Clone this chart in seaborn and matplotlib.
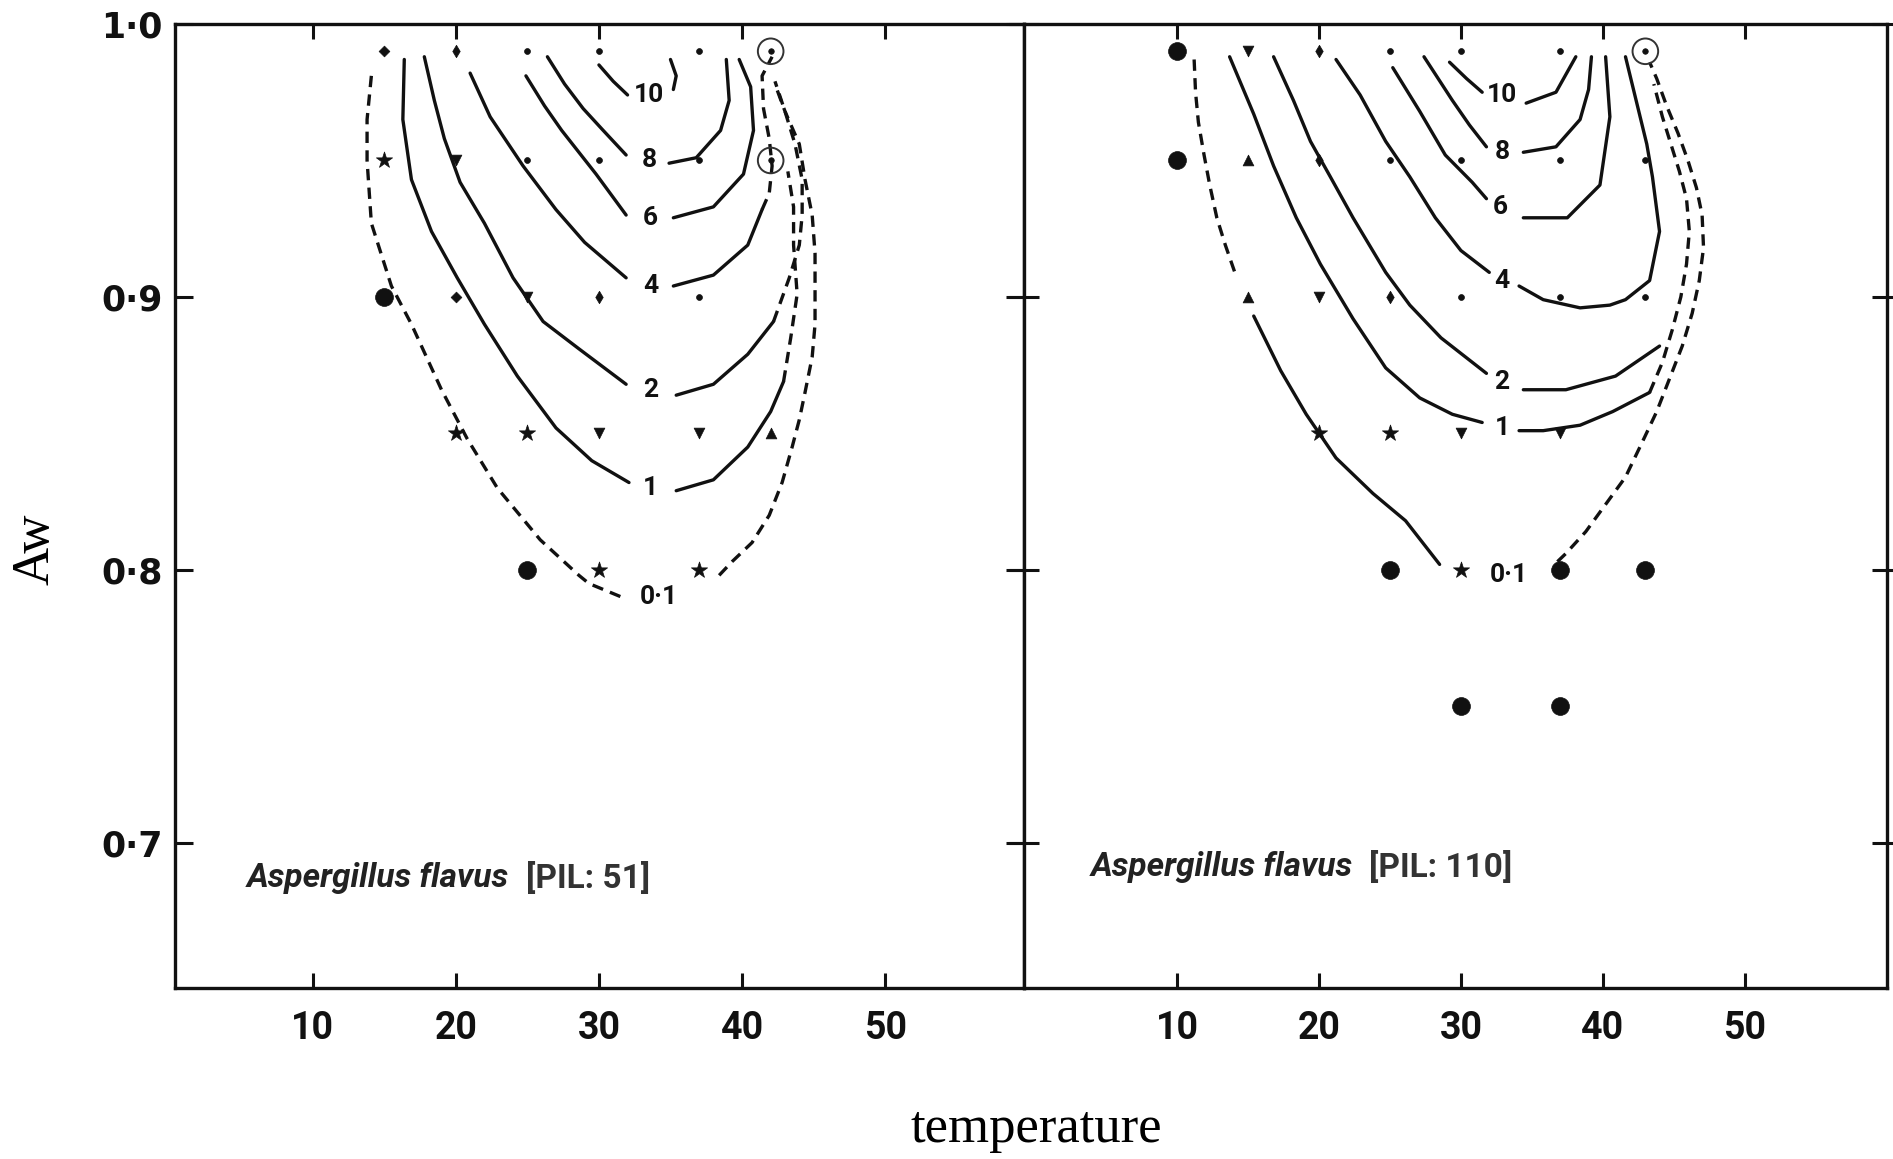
"""
Aspergillus flavus growth contours (water activity vs temperature), two isolates.
Contours traced from the published figure; points are the test conditions.
"""

import pandas as pd
import matplotlib
matplotlib.use("Agg")
import matplotlib.pyplot as plt
import seaborn as sns

# ---------------------------------------------------------------------
# === DATA : (temperature degC, water activity) =======================
# ---------------------------------------------------------------------

# --- left panel, PIL 51 ---
L_10_A = [(30.0, 0.985), (31.0, 0.979), (32.0, 0.974)]
L_10_B = [(35.0, 0.987), (35.4, 0.981), (35.2, 0.976)]
L_8_A = [(26.4, 0.988), (27.6, 0.978), (28.9, 0.969), (30.3, 0.961), (31.9, 0.952)]
L_8_B = [(34.9, 0.949), (36.8, 0.951), (38.5, 0.961), (39.1, 0.972), (38.9, 0.987)]
L_6_A = [(24.9, 0.981), (26.2, 0.970), (27.4, 0.961), (28.6, 0.953), (29.8, 0.945), (31.9, 0.930)]
L_6_B = [(35.2, 0.929), (38.0, 0.933), (40.1, 0.945), (40.8, 0.961), (40.6, 0.977), (39.8, 0.987)]
L_4_A = [(21.0, 0.982), (22.4, 0.966), (24.7, 0.948), (27.0, 0.932), (29.0, 0.920), (31.9, 0.907)]
L_4_B = [(35.2, 0.904), (38.0, 0.908), (40.4, 0.919), (41.4, 0.932)]
L_4_EXT = [(41.4, 0.932), (41.9, 0.938), (42.1, 0.948), (41.9, 0.958), (41.5, 0.969),
           (41.4, 0.981), (42.1, 0.988)]
L_2_A = [(17.8, 0.988), (18.5, 0.972), (19.2, 0.958), (20.3, 0.942), (22.0, 0.927), (24.0, 0.907),
         (26.1, 0.891), (28.6, 0.881), (31.9, 0.868)]
L_2_B = [(35.4, 0.864), (38.0, 0.868), (40.4, 0.879), (42.2, 0.891)]
L_2_EXT = [(42.2, 0.891), (43.3, 0.907), (44.0, 0.919), (44.2, 0.930), (44.2, 0.943), (43.7, 0.956),
           (43.0, 0.968), (42.3, 0.979)]
L_1_A = [(16.4, 0.987), (16.3, 0.965), (16.9, 0.943), (18.3, 0.924), (20.1, 0.907), (22.0, 0.890),
         (24.3, 0.871), (27.0, 0.852), (29.5, 0.840), (32.1, 0.832)]
L_1_B = [(35.4, 0.829), (38.0, 0.833), (40.4, 0.845), (42.0, 0.858), (42.9, 0.869)]
L_1_EXT = [(42.9, 0.869), (43.4, 0.885), (43.85, 0.901), (43.6, 0.919), (43.6, 0.933), (43.2, 0.946)]
L_01_A = [(14.1, 0.981), (13.8, 0.965), (13.8, 0.950), (14.1, 0.927), (15.5, 0.904), (16.9, 0.890),
          (19.0, 0.866), (20.8, 0.848), (22.9, 0.830), (25.9, 0.811), (28.6, 0.798), (29.3, 0.795),
          (31.6, 0.790)]
L_01_B = [(38.4, 0.798), (39.3, 0.803), (40.7, 0.810), (41.9, 0.820), (42.8, 0.832), (43.5, 0.845),
          (44.0, 0.855), (44.4, 0.865), (44.9, 0.878), (45.1, 0.890), (45.1, 0.904), (45.1, 0.916),
          (44.9, 0.930), (44.4, 0.943), (44.0, 0.956), (43.0, 0.968), (42.3, 0.978)]

L_LABELS = ["10", "8", "6", "4", "2", "1", "0·1"]
L_LABEL_T = [33.5, 33.5, 33.6, 33.6, 33.6, 33.6, 34.2]
L_LABEL_AW = [0.974, 0.950, 0.929, 0.904, 0.866, 0.830, 0.790]

L_PTS_T = [15, 20, 25, 30, 37, 42,
           15, 20, 25, 30, 37, 42,
           15, 20, 25, 30, 37,
           20, 25, 30, 37, 42,
           25, 30, 37]
L_PTS_AW = [0.99] * 6 + [0.95] * 6 + [0.90] * 5 + [0.85] * 5 + [0.80] * 3
L_PTS_KIND = ["dash", "slant", "dot", "dot", "dot", "ring",
              "star", "v", "dot", "dot", "dot", "ring",
              "none", "dash", "v", "slant", "dot",
              "star", "star", "v", "v", "tri",
              "none", "star", "star"]

# --- right panel, PIL 110 ---
R_10_A = [(29.2, 0.986), (30.4, 0.980), (31.5, 0.975)]
R_10_B = [(34.6, 0.971), (36.7, 0.975), (38.1, 0.988)]
R_8_A = [(27.4, 0.988), (28.4, 0.980), (29.4, 0.972), (30.6, 0.963), (31.8, 0.955)]
R_8_B = [(34.4, 0.953), (36.7, 0.955), (38.4, 0.965), (39.0, 0.976), (39.2, 0.988)]
R_6_A = [(25.2, 0.984), (27.1, 0.968), (28.9, 0.952), (30.8, 0.942), (31.8, 0.936)]
R_6_B = [(34.4, 0.929), (37.5, 0.929), (39.8, 0.941), (40.5, 0.966), (40.2, 0.988)]
R_4_A = [(21.2, 0.987), (22.9, 0.974), (24.7, 0.957), (26.4, 0.944), (28.2, 0.929), (30.0, 0.917),
         (32.0, 0.909)]
R_4_B = [(34.1, 0.904), (35.8, 0.899), (38.4, 0.896), (40.5, 0.897), (41.6, 0.899), (43.3, 0.906),
         (44.0, 0.924), (43.5, 0.944), (43.1, 0.956), (41.6, 0.988)]
R_2_A = [(16.8, 0.988), (18.2, 0.972), (19.4, 0.957), (20.8, 0.944), (22.4, 0.929), (24.7, 0.909),
         (26.4, 0.897), (28.6, 0.885), (31.8, 0.872)]
R_2_B = [(34.4, 0.866), (37.4, 0.866), (40.9, 0.871), (44.0, 0.882)]
R_1_A = [(13.7, 0.988), (15.4, 0.967), (16.8, 0.948), (18.4, 0.929), (20.1, 0.912), (22.4, 0.892),
         (24.7, 0.874), (27.1, 0.863), (29.4, 0.857), (31.5, 0.854)]
R_1_B = [(34.1, 0.851), (35.8, 0.851), (38.4, 0.853), (40.7, 0.858), (43.3, 0.865)]
R_1_EXT = [(43.3, 0.865), (44.2, 0.876), (44.9, 0.888), (45.5, 0.900), (45.9, 0.912), (46.1, 0.924),
           (45.9, 0.936), (45.4, 0.946), (44.8, 0.956), (44.2, 0.966), (43.6, 0.978)]
R_01_A = [(11.2, 0.987), (11.3, 0.975), (11.5, 0.964), (11.9, 0.952), (12.3, 0.941), (12.8, 0.929),
          (13.4, 0.919), (14.2, 0.907)]
R_01_B = [(15.4, 0.893), (17.3, 0.873), (19.1, 0.857), (21.2, 0.841), (23.8, 0.828), (26.1, 0.818),
          (28.5, 0.802)]
R_01_C = [(36.8, 0.803), (37.4, 0.806), (38.8, 0.814), (40.2, 0.824), (41.6, 0.834), (42.8, 0.847),
          (43.8, 0.858), (44.7, 0.870), (45.6, 0.882), (46.3, 0.894), (46.8, 0.906), (47.1, 0.918),
          (47.0, 0.930), (46.6, 0.940), (46.0, 0.950), (45.3, 0.960), (44.5, 0.970), (43.8, 0.980),
          (43.3, 0.986)]

R_LABELS = ["10", "8", "6", "4", "2", "1", "0·1"]
R_LABEL_T = [32.9, 32.9, 32.8, 32.9, 32.9, 32.9, 33.4]
R_LABEL_AW = [0.974, 0.953, 0.933, 0.906, 0.869, 0.852, 0.798]

R_PTS_T = [10, 15, 20, 25, 30, 37, 43,
           10, 15, 20, 25, 30, 37, 43,
           15, 20, 25, 30, 37, 43,
           20, 25, 30, 37,
           25, 30, 37, 43,
           30, 37]
R_PTS_AW = [0.99] * 7 + [0.95] * 7 + [0.90] * 6 + [0.85] * 4 + [0.80] * 4 + [0.75] * 2
R_PTS_KIND = ["none", "v", "slant", "dot", "dot", "dot", "ring",
              "none", "tri", "slant", "dot", "dot", "dot", "dot",
              "tri", "v", "slant", "dot", "dot", "dot",
              "star", "star", "v", "v",
              "none", "star", "none", "none",
              "none", "none"]

X_TICKS = [10, 20, 30, 40, 50]
Y_TICKS = [0.7, 0.8, 0.9, 1.0]
Y_TICK_LABELS = ["0·7", "0·8", "0·9", "1·0"]

# ---------------------------------------------------------------------
# === STYLE ===========================================================
# ---------------------------------------------------------------------

sns.set_style("ticks")
plt.rcParams["font.family"] = ["DejaVu Sans"]

INK = "#111111"
SOLID = "-"
DASHED = (0, (3.4, 2.2))
MARKERS = {
    "none": ("o", 165),
    "dot": ("o", 18),
    "ring": ("o", 16),
    "v": ("v", 60),
    "tri": ("^", 60),
    "star": ("*", 150),
    "slant": ("d", 40),
    "dash": ("D", 30),
}

LEFT_LINES = [
    (L_10_A, SOLID), (L_10_B, SOLID), (L_8_A, SOLID), (L_8_B, SOLID),
    (L_6_A, SOLID), (L_6_B, SOLID), (L_4_A, SOLID), (L_4_B, SOLID), (L_4_EXT, DASHED),
    (L_2_A, SOLID), (L_2_B, SOLID), (L_2_EXT, DASHED),
    (L_1_A, SOLID), (L_1_B, SOLID), (L_1_EXT, DASHED),
    (L_01_A, DASHED), (L_01_B, DASHED),
]
RIGHT_LINES = [
    (R_10_A, SOLID), (R_10_B, SOLID), (R_8_A, SOLID), (R_8_B, SOLID),
    (R_6_A, SOLID), (R_6_B, SOLID), (R_4_A, SOLID), (R_4_B, SOLID),
    (R_2_A, SOLID), (R_2_B, SOLID),
    (R_1_A, SOLID), (R_1_B, SOLID), (R_1_EXT, DASHED),
    (R_01_A, DASHED), (R_01_B, SOLID), (R_01_C, DASHED),
]


def draw_contours(ax, lines):
    for pts, ls in lines:
        df = pd.DataFrame(pts, columns=["temp", "aw"])
        sns.lineplot(data=df, x="temp", y="aw", sort=False, estimator=None,
                     color=INK, lw=2.4, linestyle=ls, ax=ax)


def draw_labels(ax, labels, ts, aws):
    for lab, t, a in zip(labels, ts, aws):
        ax.text(t, a, lab, ha="center", va="center", fontsize=19,
                fontweight="bold", family="Roboto", color=INK)


def draw_points(ax, ts, aws, kinds):
    pts = pd.DataFrame({"temp": ts, "aw": aws, "kind": kinds})
    for kind, sub in pts.groupby("kind"):
        marker, size = MARKERS[kind]
        sns.scatterplot(data=sub, x="temp", y="aw", marker=marker, s=size,
                        color=INK, edgecolor=INK, linewidth=0.5, ax=ax, zorder=3)
    rings = pts[pts["kind"] == "ring"]
    sns.scatterplot(data=rings, x="temp", y="aw", marker="o", s=340,
                    facecolor="none", edgecolor="#333333", linewidth=1.4, ax=ax, zorder=3)


def panel_title(ax, t, a, tag):
    t1 = ax.text(t, a, "Aspergillus flavus", ha="left", va="center", fontsize=24,
                 fontweight="bold", fontstyle="italic", family="Roboto", color="#222222")
    ax.annotate(tag, xy=(1, 0.5), xycoords=t1, xytext=(12, 0), textcoords="offset points",
                ha="left", va="center", fontsize=24, fontweight="bold", family="Roboto",
                color="#333333")


def style_axes(ax, xlim, show_ylabels):
    ax.set_xlim(*xlim)
    ax.set_ylim(0.6468, 1.0)
    ax.set_xticks(X_TICKS)
    ax.set_xticklabels([str(v) for v in X_TICKS])
    ax.set_yticks(Y_TICKS)
    ax.set_yticklabels(Y_TICK_LABELS if show_ylabels else [])
    ax.set_xlabel("")
    ax.set_ylabel("")
    for sp in ax.spines.values():
        sp.set_visible(True)
        sp.set_linewidth(2.4)
        sp.set_color(INK)
    ax.tick_params(axis="x", which="major", direction="in", top=True, bottom=True,
                   length=11, width=2.2, colors=INK, pad=16)
    ax.tick_params(axis="y", which="major", direction="in", left=True, right=True,
                   length=13, width=2.2, colors=INK, pad=9)
    for lab in ax.get_xticklabels():
        lab.set_fontfamily("Roboto")
        lab.set_fontweight("bold")
        lab.set_fontsize(27)
    for lab in ax.get_yticklabels():
        lab.set_fontfamily("DejaVu Sans")
        lab.set_fontweight("bold")
        lab.set_fontsize(25)


# ---------------------------------------------------------------------
# === FIGURE ==========================================================
# ---------------------------------------------------------------------

W, H = 1893, 1159
fig = plt.figure(figsize=(W / 100, H / 100), dpi=100)
bottom = 1 - 988 / H
height = (988 - 24) / H
ax_l = fig.add_axes([175 / W, bottom, (1024 - 175) / W, height])
ax_r = fig.add_axes([1024 / W, bottom, (1887 - 1024) / W, height])

draw_contours(ax_l, LEFT_LINES)
draw_labels(ax_l, L_LABELS, L_LABEL_T, L_LABEL_AW)
draw_points(ax_l, L_PTS_T, L_PTS_AW, L_PTS_KIND)
panel_title(ax_l, 5.4, 0.687, "[PIL: 51]")
style_axes(ax_l, (0.38, 59.7), True)

draw_contours(ax_r, RIGHT_LINES)
draw_labels(ax_r, R_LABELS, R_LABEL_T, R_LABEL_AW)
draw_points(ax_r, R_PTS_T, R_PTS_AW, R_PTS_KIND)
panel_title(ax_r, 3.9, 0.691, "[PIL: 110]")
style_axes(ax_r, (-0.79, 60.03), False)
ax_r.tick_params(axis="y", which="major", left=True, direction="inout", length=22)

fig.text(1036 / W, 1 - 1129 / H, "temperature", ha="center", va="center",
         fontsize=38, family="Liberation Serif", color="black")
fig.text(36 / W, 1 - 549 / H, "Aw", ha="center", va="center", rotation=90,
         fontsize=38, family="Liberation Serif", color="black")

fig.savefig("out.png", dpi=100, facecolor="white")
